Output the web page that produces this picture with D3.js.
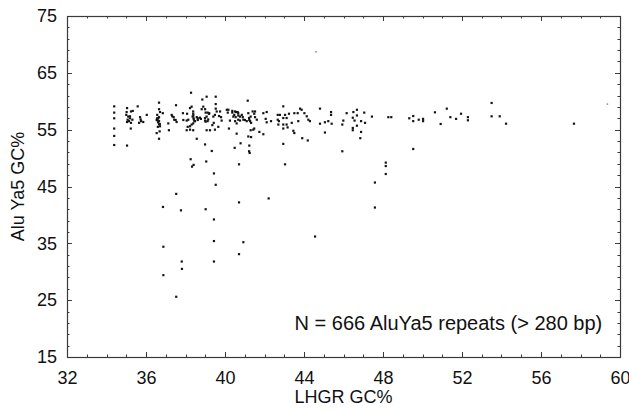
<!DOCTYPE html>
<html>
<head>
<meta charset="utf-8">
<script src="https://cdn.jsdelivr.net/npm/d3@7/dist/d3.min.js"></script>
<style>
  html, body { margin: 0; padding: 0; background: #fff; }
  svg { display: block; font-family: "Liberation Sans", Arial, Helvetica, sans-serif; }
</style>
</head>
<body>
<svg id="chart" width="629" height="412"></svg>
<script>
// Axis domains and tick values
const xDomain = [32, 60];
const yDomain = [15, 75];
const xTickValues = [32, 36, 40, 44, 48, 52, 56, 60];
const yTickValues = [15, 25, 35, 45, 55, 65, 75];

// Each point: [LHGR GC%, Alu Ya5 GC%]
// Repeats in low-GC LHGR windows (34-36.5%)
const lowGC = [
  [34.39,59.1],[34.39,58.0],[34.39,57.0],[34.39,55.2],[34.39,53.9],[34.39,52.3],
  [35.04,58.8],[35.00,57.6],[35.10,57.3],[35.19,57.0],[35.04,56.35],[35.24,56.2],
  [35.33,58.3],[35.23,55.2],[35.04,52.2],[35.24,58.2],[35.02,58.1],[35.19,57.35],
  [35.07,56.75],[35.14,56.5],[35.31,56.75],[35.58,59.1],[35.70,57.2],[35.73,56.8],
  [35.75,56.5],[35.65,56.2],[35.86,56.35],[36.04,57.6]
];
// 36.5-38.7%
const midLowGC = [
  [36.66,59.75],[36.66,58.6],[36.57,57.6],[36.66,57.2],[36.54,56.7],[36.61,56.3],
  [36.66,55.95],[36.71,55.6],[36.54,54.4],[36.69,54.7],[36.66,53.4],[36.71,58.1],
  [36.59,56.65],[36.66,56.5],[36.56,57.0],[36.85,57.9],[36.62,57.0],[36.70,56.0],
  [36.60,55.5],
  [37.13,56.1],[37.16,54.9],[37.52,59.3],[37.30,57.6],[37.33,57.35],[37.40,57.2],
  [37.43,56.75],[37.50,56.7],[37.55,56.35],
  [37.87,57.9],[38.08,57.8],[37.89,56.7],[38.06,56.6],[38.14,56.75],[38.11,55.5],
  [38.06,54.9],
  [38.28,61.5],[38.31,59.05],[38.23,58.8],[38.39,58.2],[38.39,57.8],[38.36,57.3],
  [38.45,56.5],[38.48,56.5],[38.39,56.1],[38.31,55.9],[38.23,55.6],[38.23,55.0],
  [38.39,54.9],[38.57,53.4],[38.57,57.2],[38.62,56.7],[38.73,57.1],[38.62,57.0],
  [38.40,57.5],[38.41,57.0],[38.42,56.8]
];
// 38.7-41.8%
const midGC = [
  [38.85,60.3],[39.07,60.8],[38.90,59.05],[38.82,58.6],[38.99,58.6],[39.02,58.0],
  [39.12,58.0],[39.19,57.8],[39.07,57.3],[38.99,57.05],[38.78,56.9],[39.15,56.8],
  [39.02,56.4],[38.99,56.6],[39.12,56.5],[39.20,57.9],[39.07,54.9],[39.24,54.9],
  [38.99,52.4],
  [39.43,56.2],[39.36,55.8],[39.49,57.6],[39.53,60.8],[39.53,59.5],[39.53,58.7],
  [39.41,57.3],[39.49,55.0],[39.58,58.2],[39.75,58.2],[39.70,57.4],[39.80,57.2],
  [39.83,56.6],[39.66,55.5],[39.33,51.25],
  [40.09,58.5],[40.14,58.0],[40.17,58.5],[40.37,58.3],[40.37,58.0],[40.42,57.3],
  [40.25,56.6],[40.20,55.2],[40.47,57.6],[40.51,58.2],[40.54,57.2],[40.51,56.5],
  [40.49,51.8],
  [40.56,58.1],[40.64,58.1],[40.67,57.9],[40.67,57.5],[40.67,56.75],[40.76,57.3],
  [40.76,56.6],[40.59,56.1],[40.59,54.3],[40.85,57.6],[40.90,57.2],[40.93,56.75],
  [41.01,56.7],[40.79,52.6],
  [41.15,60.1],[41.10,56.5],[41.18,57.9],[41.22,57.05],[41.30,57.3],[41.23,56.7],
  [41.27,56.5],[41.32,56.2],[41.40,58.2],[41.30,54.9],[41.48,55.2],[41.43,55.0],
  [41.32,53.7],[41.18,53.8],[41.23,52.2],[41.22,51.2],[41.52,58.2],[41.48,57.8],
  [41.61,56.75],[41.52,57.2]
];
// 41.7-47.5%
const midHighGC = [
  [41.74,54.6],[41.94,54.2],[41.94,57.9],[42.11,58.1],[42.06,56.9],[42.11,56.3],
  [42.33,56.5],
  [42.95,59.1],[42.67,57.6],[42.78,57.6],[43.04,57.6],[42.67,56.75],[42.73,56.5],
  [42.70,55.9],[42.95,57.05],[43.12,57.05],[42.95,55.9],[43.12,55.9],[42.95,55.2],
  [43.17,55.4],[42.95,52.5],
  [43.24,57.8],[43.51,57.9],[43.68,57.9],[43.80,58.7],[43.88,58.5],[44.02,57.9],
  [44.14,57.35],[43.38,56.2],[43.71,56.5],[44.22,56.75],[44.30,56.5],[43.46,54.8],
  [43.51,54.4],[43.91,53.5],[44.19,53.1],
  [44.81,58.7],[44.81,56.05],[45.06,56.3],[45.23,56.5],[45.37,58.1],[45.37,57.6],
  [45.40,56.05],[45.06,54.5],
  [45.99,56.6],[45.94,55.9],[46.16,57.9],[45.94,51.2],
  [46.50,58.1],[46.68,58.5],[47.05,58.0],[46.68,57.5],[46.47,57.1],[46.56,56.6],
  [46.89,56.5],[47.09,56.2],[46.68,55.7],[46.47,55.3],[46.47,54.9],[46.89,54.6],
  [46.85,53.5],[47.44,57.3]
];
// High-GC windows (> 48%)
const highGC = [
  [48.27,57.2],[48.42,57.2],[48.14,49.2],[48.14,48.6],[48.14,47.2],[47.59,45.7],
  [47.59,41.3],
  [49.33,57.0],[49.53,57.4],[49.53,56.5],[49.81,56.75],[50.03,56.9],[50.03,56.5],
  [49.53,51.6],
  [50.63,58.05],[50.92,56.0],[51.23,58.7],[51.41,57.2],[51.70,56.9],[51.95,57.8],
  [52.30,57.2],[52.30,56.65],[53.50,59.7],[53.50,57.35],[53.91,57.35],[54.23,56.05],
  [57.67,56.05]
];
// Repeats well below the main band
const lowAlu = [
  [38.26,49.8],[39.05,49.4],[38.41,48.8],[38.33,48.5],[40.71,48.9],[43.04,48.9],
  [41.25,50.9],[39.44,47.3],[39.53,45.3],[37.53,43.7],[42.21,42.9],[40.71,42.2],
  [36.86,41.4],[37.77,40.8],[39.02,41.0],[39.44,39.2],[44.56,36.2],[39.44,35.4],
  [40.93,35.2],[36.88,34.4],[40.71,33.1],[37.81,31.8],[39.44,31.8],[37.82,30.5],
  [36.88,29.4],[37.53,25.6]
];
// Faint outliers
const faint = [[44.61,68.7],[59.36,59.5]];

const annotation = "N = 666 AluYa5 repeats (> 280 bp)";
const xTitle = "LHGR GC%";
const yTitle = "Alu Ya5 GC%";

const svg = d3.select("#chart");
const margin = { left: 67, right: 9, top: 16, bottom: 55 };
const W = 629, H = 412;

const x = d3.scaleLinear().domain(xDomain).range([margin.left, W - margin.right]);
const y = d3.scaleLinear().domain(yDomain).range([H - margin.bottom, margin.top]);

const axisColor = "#3a3a3a";
const x0 = x.range()[0], x1 = x.range()[1];
const y0 = y.range()[0], y1 = y.range()[1];

// Minor tick values
const xMinor = d3.range(xDomain[0], xDomain[1] + 0.001, 1).filter(v => !xTickValues.includes(v));
const yMinor = d3.range(yDomain[0], yDomain[1] + 0.001, 2).filter(v => !yTickValues.includes(v));

const tickG = svg.append("g").attr("stroke", axisColor).attr("stroke-width", 1);
function vTicks(vals, len) {
  vals.forEach(v => {
    const px = Math.round(x(v)) + 0.5;
    tickG.append("line").attr("x1", px).attr("x2", px).attr("y1", y0).attr("y2", y0 - len);
    tickG.append("line").attr("x1", px).attr("x2", px).attr("y1", y1).attr("y2", y1 + len);
  });
}
function hTicks(vals, len) {
  vals.forEach(v => {
    const py = Math.round(y(v)) + 0.5;
    tickG.append("line").attr("y1", py).attr("y2", py).attr("x1", x0).attr("x2", x0 + len);
    tickG.append("line").attr("y1", py).attr("y2", py).attr("x1", x1).attr("x2", x1 - len);
  });
}
vTicks(xTickValues, 5);
vTicks(xMinor, 2.5);
hTicks(yTickValues, 5);
hTicks(yMinor, 2.5);

// Frame
svg.append("rect")
  .attr("x", x0 + 0.5).attr("y", y1 + 0.5)
  .attr("width", x1 - x0).attr("height", y0 - y1)
  .attr("fill", "none").attr("stroke", axisColor).attr("stroke-width", 1.2);

// Tick labels via d3 axes (lines hidden)
const xAxis = d3.axisBottom(x).tickValues(xTickValues).tickSize(0).tickPadding(10).tickFormat(d3.format("d"));
const yAxis = d3.axisLeft(y).tickValues(yTickValues).tickSize(0).tickPadding(10).tickFormat(d3.format("d"));

const gx = svg.append("g").attr("transform", `translate(0,${y0})`).call(xAxis);
const gy = svg.append("g").attr("transform", `translate(${x0},0)`).call(yAxis);
[gx, gy].forEach(g => {
  g.select(".domain").remove();
  g.selectAll("text").attr("font-size", 18).attr("fill", "#111")
    .attr("font-family", "'Liberation Sans', Arial, sans-serif");
});
gx.selectAll("text").attr("dy", "0.95em");
// keep the last x label inside the canvas
gx.selectAll(".tick").filter(d => d === xDomain[1]).select("text")
  .attr("text-anchor", "end").attr("dx", "0.55em");

// Points
const all = [].concat(lowGC, midLowGC, midGC, midHighGC, highGC, lowAlu);
const s = 2.2;
svg.append("g").selectAll("rect").data(all).join("rect")
  .attr("x", d => x(d[0]) - s / 2)
  .attr("y", d => y(d[1]) - s / 2)
  .attr("width", s).attr("height", s)
  .attr("fill", "#141414");
svg.append("g").selectAll("rect").data(faint).join("rect")
  .attr("x", d => x(d[0]) - 0.8)
  .attr("y", d => y(d[1]) - 0.8)
  .attr("width", 1.6).attr("height", 1.6)
  .attr("fill", "#999");

// Annotation
svg.append("text")
  .attr("x", x(59.1)).attr("y", y(19.8))
  .attr("text-anchor", "end")
  .attr("font-size", 20).attr("fill", "#111")
  .text(annotation);

// Axis titles
svg.append("text")
  .attr("x", (x0 + x1) / 2).attr("y", 403)
  .attr("text-anchor", "middle")
  .attr("font-size", 18).attr("fill", "#111")
  .text(xTitle);
svg.append("text")
  .attr("transform", `translate(24,${(y0 + y1) / 2}) rotate(-90)`)
  .attr("text-anchor", "middle")
  .attr("font-size", 18).attr("fill", "#111")
  .text(yTitle);
</script>
</body>
</html>
